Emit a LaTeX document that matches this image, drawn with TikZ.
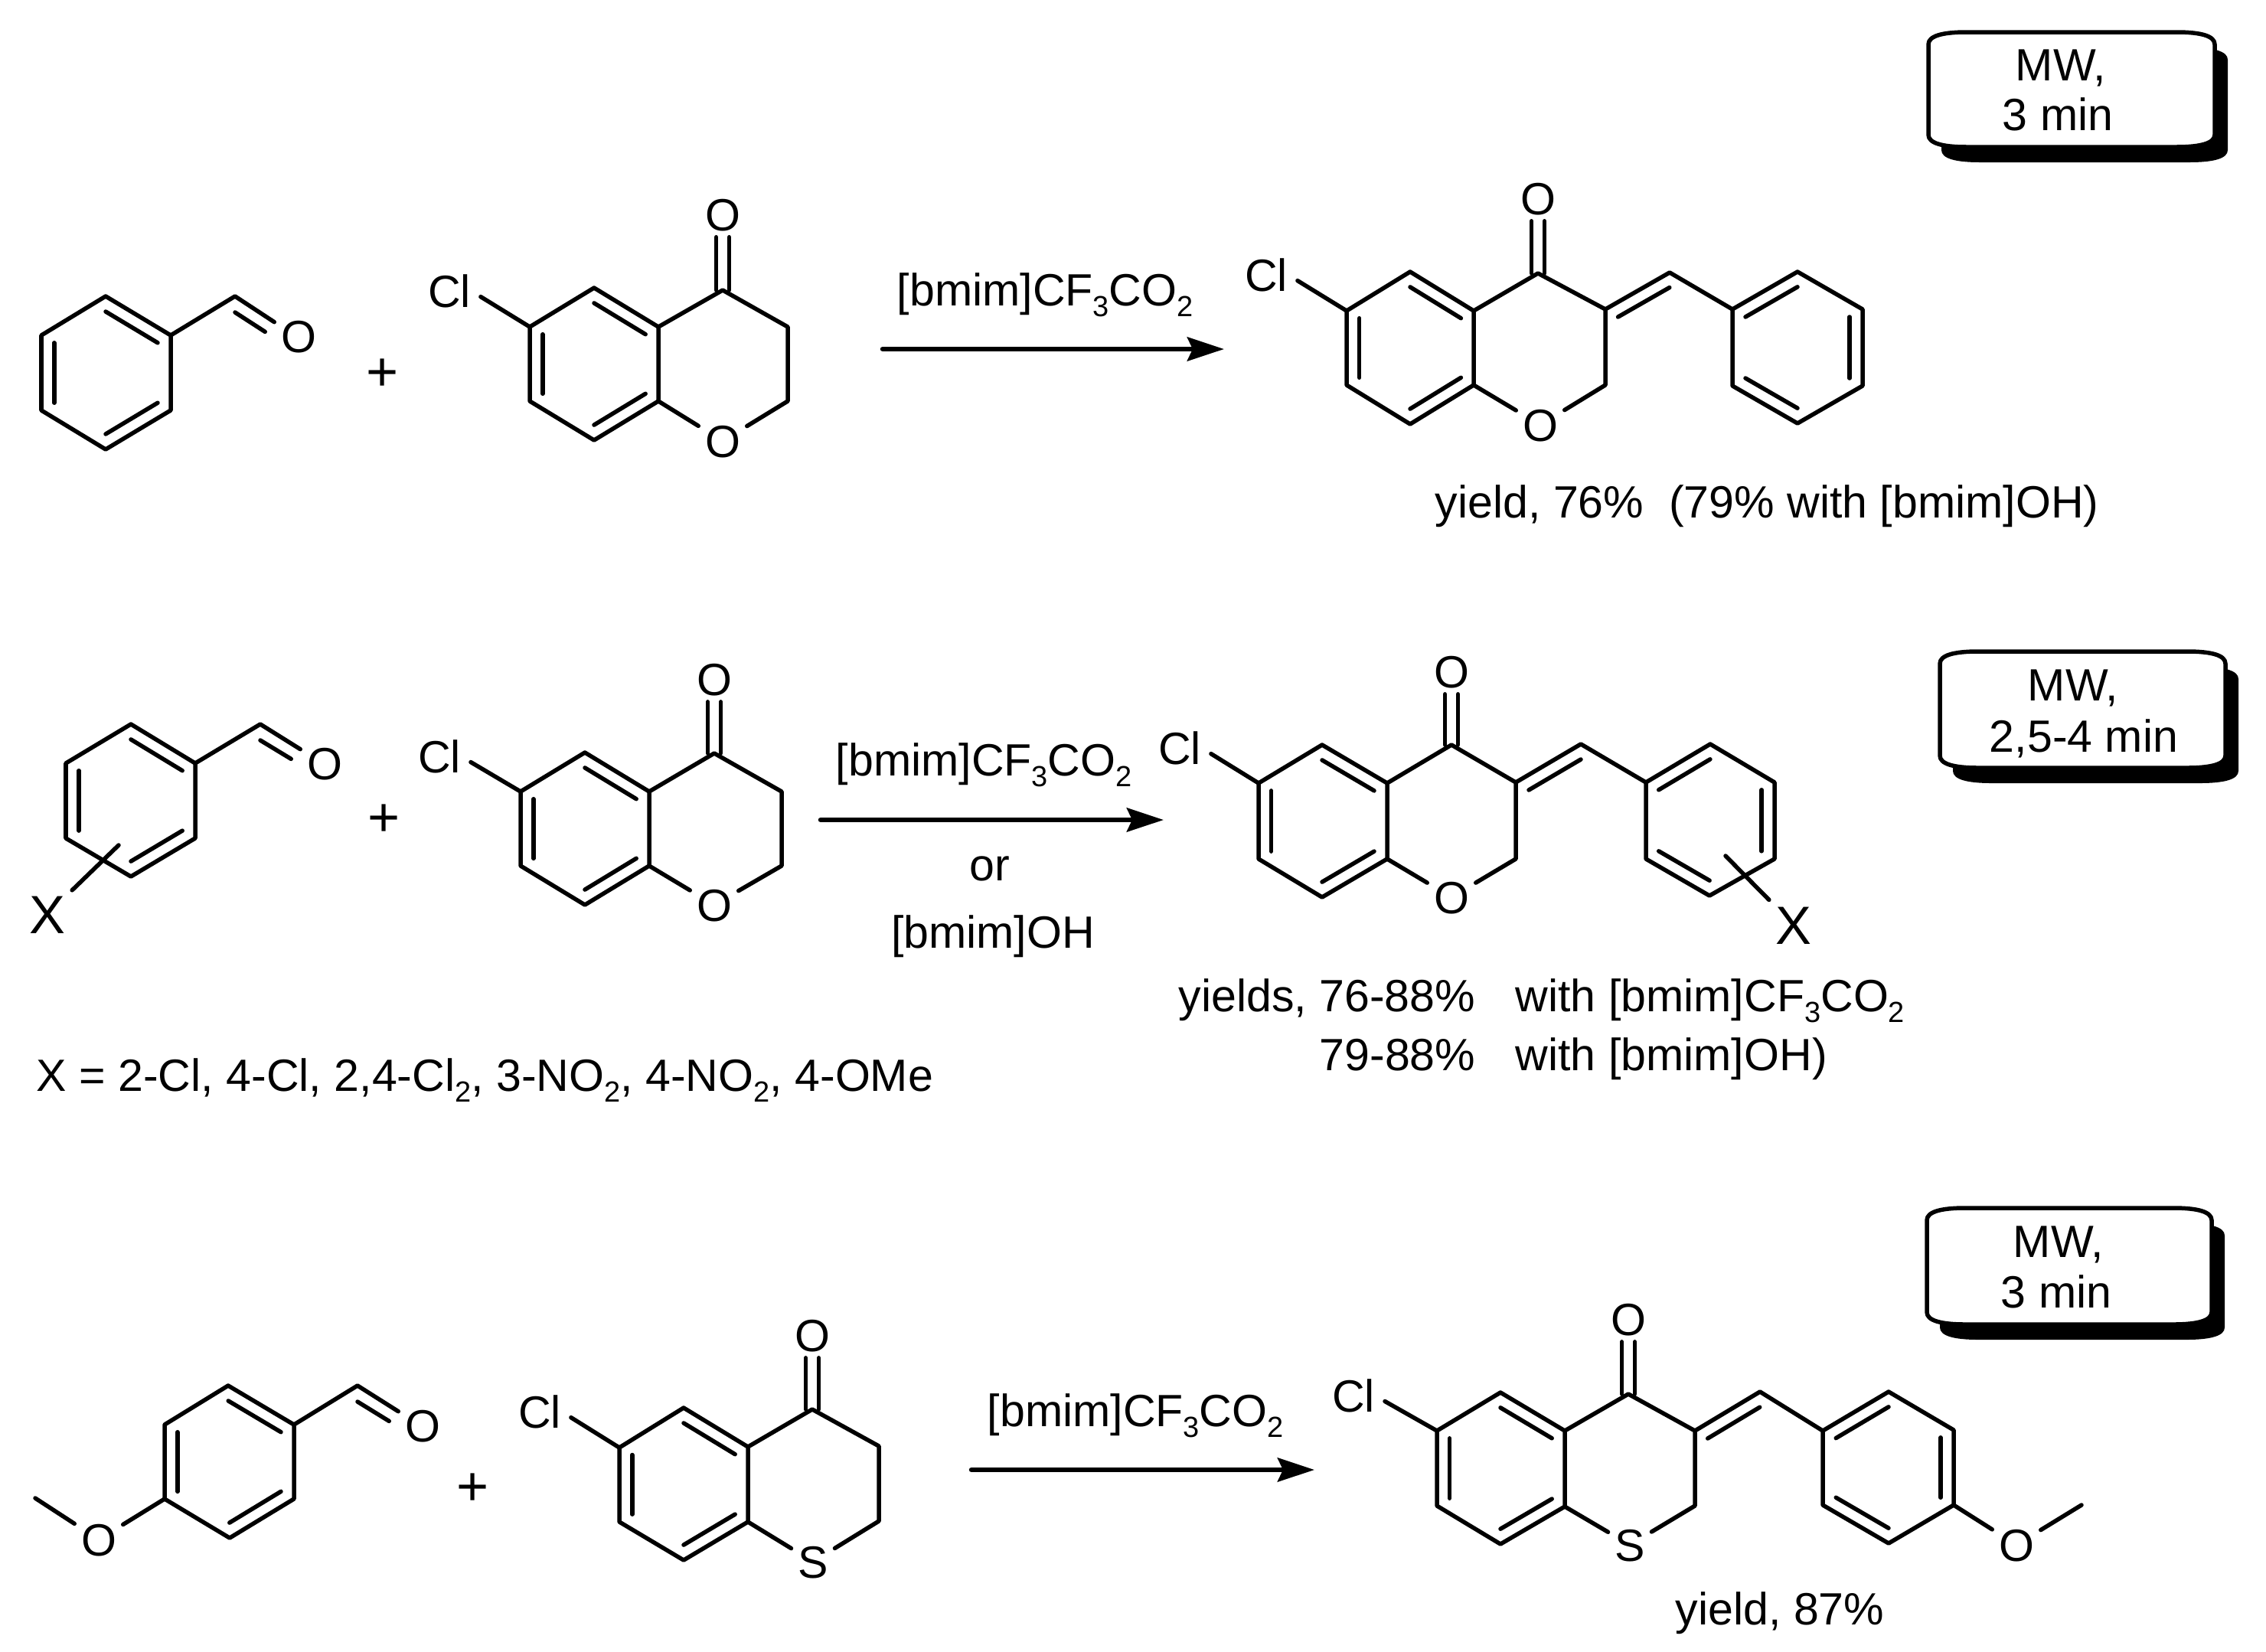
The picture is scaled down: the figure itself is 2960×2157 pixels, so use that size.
\documentclass[tikz,border=0pt]{standalone}
\usepackage{fontspec}
\setmainfont{Liberation Sans}
\usetikzlibrary{calc,arrows.meta}
\tikzset{
  atom/.style={inner sep=.06cm, text height=.42cm, text depth=0pt},
  bigatom/.style={atom, font=\fontsize{20}{24}\selectfont, text height=.5cm},
  lab/.style={inner sep=0pt, anchor=base west},
  cen/.style={inner sep=0pt, anchor=base},
  pluslab/.style={inner sep=0pt, font=\fontsize{20.5}{24}\selectfont},
  rxn/.style={line width=.065cm, -{Stealth[length=.48cm,width=.31cm,inset=.07cm]}}
}
\newcommand{\lowidx}[1]{\raisebox{-.25em}{\fontsize{10.8}{12}\selectfont #1}}
\newcommand{\inbond}[3]{\draw ($(#1#2)!.2!(#1c)$) to ($(#1#3)!.2!(#1c)$);}
\newcommand{\hexring}[1]{
  \coordinate (#1c) at ($(#11)!.5!(#14)$);
  \draw (#11) to (#12) to (#13) to (#14) to (#15) to (#16) to (#11);
}
\newcommand{\benzal}[1]{
  \hexring{#1}
  \inbond{#1}{1}{2}
  \inbond{#1}{3}{4}
  \inbond{#1}{5}{6}
  \draw (#12) to (#1h) to (#1o.150);
  \draw ([yshift=-.21cm]#1h) to ([xshift=-.12cm]#1o.170);
}
\newcommand{\pyranone}[1]{
  \hexring{#1}
  \inbond{#1}{1}{2}
  \inbond{#1}{3}{4}
  \inbond{#1}{5}{6}
  \draw (#12) to (#17) to (#1x1) to (#18) to (#1y) to (#13);
  \draw[shorten >=.05cm] (#16) to ([yshift=-.05cm]#1l.east);
  \draw ([xshift=-.085cm]#17) to ([xshift=-.085cm]#1o.south);
  \draw ([xshift=.085cm]#17) to ([xshift=.085cm]#1o.south);
}
\newcommand{\benzyl}[1]{
  \coordinate (#1xc) at ($(#1x1)!.5!(#1p6)+(0,50)$);
  \draw (#1x1) to (#1x2) to (#1p6);
  \inbond{#1x}{1}{2}
  \hexring{#1p}
  \inbond{#1p}{6}{1}
  \inbond{#1p}{2}{3}
  \inbond{#1p}{4}{5}
}
\newcommand{\mwbox}[4]{
  \fill[shift={(17,20)}]
    (#1,#2+16) .. controls (#1,#2+5) and (#1+18,#2) .. (#1+50,#2) -- (#3-50,#2)
    .. controls (#3-18,#2) and (#3,#2+5) .. (#3,#2+16) -- (#3,#4-16)
    .. controls (#3,#4-5) and (#3-18,#4) .. (#3-50,#4) -- (#1+50,#4)
    .. controls (#1+18,#4) and (#1,#4-5) .. (#1,#4-16) -- cycle;
  \filldraw[fill=white]
    (#1,#2+16) .. controls (#1,#2+5) and (#1+18,#2) .. (#1+50,#2) -- (#3-50,#2)
    .. controls (#3-18,#2) and (#3,#2+5) .. (#3,#2+16) -- (#3,#4-16)
    .. controls (#3,#4-5) and (#3-18,#4) .. (#3-50,#4) -- (#1+50,#4)
    .. controls (#1+18,#4) and (#1,#4-5) .. (#1,#4-16) -- cycle;
}
\begin{document}
\begin{tikzpicture}[x=.01cm, y=-.01cm, line width=.055cm, line cap=round, line join=round,
    every node/.style={font=\fontsize{16.8}{20}\selectfont}]
  \useasboundingbox (0,0) rectangle (2960,2157);

  \mwbox{2519}{42}{2893}{192}
  \mwbox{2534}{851}{2907}{1003}
  \mwbox{2517}{1578}{2889}{1730}
  \node[cen] (mw1a) at (2692,105) {MW,};
  \node[cen] (mw1b) at (2688,170) {3 min};
  \node[cen] (mw2a) at (2708,915) {MW,};
  \node[cen] (mw2b) at (2722,982) {2,5-4 min};
  \node[cen] (mw3a) at (2689,1642) {MW,};
  \node[cen] (mw3b) at (2686,1708) {3 min};

  \draw
    (138,387) coordinate (a1)
    (223,438) coordinate (a2)
    (223,536) coordinate (a3)
    (138,587) coordinate (a4)
    (54,536) coordinate (a5)
    (54,438) coordinate (a6)
    (307,387) coordinate (ah)
    (776,376) coordinate (b1)
    (860,427) coordinate (b2)
    (860,524) coordinate (b3)
    (776,575) coordinate (b4)
    (692,524) coordinate (b5)
    (692,427) coordinate (b6)
    (944,379) coordinate (b7)
    (1029,427) coordinate (bx1)
    (1029,524) coordinate (b8)
    (1842,355) coordinate (c1)
    (1925,406) coordinate (c2)
    (1925,503) coordinate (c3)
    (1842,554) coordinate (c4)
    (1759,503) coordinate (c5)
    (1759,406) coordinate (c6)
    (2009,357) coordinate (c7)
    (2097,404) coordinate (cx1)
    (2097,503) coordinate (c8)
    (2181,356) coordinate (cx2)
    (2348,355) coordinate (cp1)
    (2433,404) coordinate (cp2)
    (2433,504) coordinate (cp3)
    (2348,553) coordinate (cp4)
    (2263,504) coordinate (cp5)
    (2263,404) coordinate (cp6)
    (1153,456) coordinate (ar1a)
    (1599,456) coordinate (ar1b);
  \node[atom] (ao) at (390,439) {O};
  \node[atom] (bo) at (944,280) {O};
  \node[atom] (by) at (944,576) {O};
  \node[atom] (bl) at (587,380) {Cl};
  \node[atom] (co) at (2009,259) {O};
  \node[atom] (cy) at (2012,555) {O};
  \node[atom] (cl) at (1654,359) {Cl};
  \node[pluslab] (plus1) at (500,490) {+};
  \benzal{a}
  \pyranone{b}
  \pyranone{c}
  \benzyl{c}
  \draw[rxn] (ar1a) to (ar1b);
  \node[lab] (rg1) at (1169,399) {[bmim]CF\lowidx{3}CO\lowidx{2}};
  \node[lab] (yield1) at (1872,676) {yield, 76\%\ \ (79\% with [bmim]OH)};

  \draw
    (171,946) coordinate (d1)
    (255,997) coordinate (d2)
    (255,1095) coordinate (d3)
    (171,1145) coordinate (d4)
    (86,1095) coordinate (d5)
    (86,997) coordinate (d6)
    (340,946) coordinate (dh)
    (155,1104) coordinate (dt)
    (764,983) coordinate (e1)
    (848,1034) coordinate (e2)
    (848,1131) coordinate (e3)
    (764,1182) coordinate (e4)
    (680,1131) coordinate (e5)
    (680,1034) coordinate (e6)
    (933,984) coordinate (e7)
    (1021,1034) coordinate (ex1)
    (1021,1131) coordinate (e8)
    (1727,973) coordinate (f1)
    (1812,1023) coordinate (f2)
    (1812,1122) coordinate (f3)
    (1727,1172) coordinate (f4)
    (1644,1122) coordinate (f5)
    (1644,1023) coordinate (f6)
    (1896,973) coordinate (f7)
    (1980,1022) coordinate (fx1)
    (1980,1122) coordinate (f8)
    (2065,972) coordinate (fx2)
    (2234,972) coordinate (fp1)
    (2318,1022) coordinate (fp2)
    (2318,1122) coordinate (fp3)
    (2233,1170) coordinate (fp4)
    (2150,1122) coordinate (fp5)
    (2150,1022) coordinate (fp6)
    (2254,1118) coordinate (ft)
    (1072,1071) coordinate (ar2a)
    (1520,1071) coordinate (ar2b);
  \node[atom] (do) at (424,997) {O};
  \node[bigatom] (dz) at (62,1194) {X};
  \node[atom] (eo) at (933,887) {O};
  \node[atom] (ey) at (933,1182) {O};
  \node[atom] (el) at (574,988) {Cl};
  \node[atom] (fo) at (1896,877) {O};
  \node[atom] (fy) at (1896,1172) {O};
  \node[atom] (fl) at (1541,977) {Cl};
  \node[bigatom] (fz) at (2343,1208) {X};
  \node[pluslab] (plus2) at (502,1072) {+};
  \benzal{d}
  \draw (dt) to (dz);
  \pyranone{e}
  \pyranone{f}
  \benzyl{f}
  \draw (ft) to (fz);
  \draw[rxn] (ar2a) to (ar2b);
  \node[lab] (rg2) at (1089,1013) {[bmim]CF\lowidx{3}CO\lowidx{2}};
  \node[cen] (rg2or) at (1293,1150) {or};
  \node[cen] (rg2oh) at (1297,1238) {[bmim]OH};
  \node[lab, anchor=base east] (yield2a) at (1930,1321) {yields, 76-88\%};
  \node[lab, anchor=base east] (yield2b) at (1930,1398) {79-88\%};
  \node[lab] (with2a) at (1977,1321) {with [bmim]CF\lowidx{3}CO\lowidx{2}};
  \node[lab] (with2b) at (1977,1398) {with [bmim]OH)};
  \node[lab] (subst) at (45,1425) {X = 2-Cl, 4-Cl, 2,4-Cl\lowidx{2}, 3-NO\lowidx{2}, 4-NO\lowidx{2}, 4-OMe};

  \draw
    (298,1810) coordinate (g1)
    (384,1861) coordinate (g2)
    (384,1958) coordinate (g3)
    (300,2009) coordinate (g4)
    (215,1958) coordinate (g5)
    (215,1861) coordinate (g6)
    (467,1810) coordinate (gh)
    (46,1957) coordinate (gme)
    (893,1839) coordinate (h1)
    (977,1890) coordinate (h2)
    (977,1988) coordinate (h3)
    (893,2038) coordinate (h4)
    (809,1988) coordinate (h5)
    (809,1891) coordinate (h6)
    (1061,1841) coordinate (h7)
    (1148,1889) coordinate (hx1)
    (1148,1987) coordinate (h8)
    (1960,1819) coordinate (i1)
    (2044,1869) coordinate (i2)
    (2044,1968) coordinate (i3)
    (1960,2017) coordinate (i4)
    (1877,1967) coordinate (i5)
    (1877,1869) coordinate (i6)
    (2127,1821) coordinate (i7)
    (2214,1869) coordinate (ix1)
    (2214,1967) coordinate (i8)
    (2299,1818) coordinate (ix2)
    (2467,1818) coordinate (ip1)
    (2552,1868) coordinate (ip2)
    (2552,1966) coordinate (ip3)
    (2467,2016) coordinate (ip4)
    (2381,1966) coordinate (ip5)
    (2381,1869) coordinate (ip6)
    (2719,1966) coordinate (ime)
    (1269,1920) coordinate (ar3a)
    (1717,1920) coordinate (ar3b);
  \node[atom] (go) at (552,1862) {O};
  \node[atom] (gm) at (129,2011) {O};
  \node[atom] (ho) at (1061,1744) {O};
  \node[atom] (hy) at (1062,2040) {S};
  \node[atom] (hl) at (705,1844) {Cl};
  \node[atom] (io) at (2127,1723) {O};
  \node[atom] (iy) at (2129,2018) {S};
  \node[atom] (il) at (1768,1823) {Cl};
  \node[atom] (im) at (2634,2018) {O};
  \node[pluslab] (plus3) at (618,1946) {+};
  \benzal{g}
  \draw (gme) to (gm) to (g5);
  \pyranone{h}
  \pyranone{i}
  \benzyl{i}
  \draw (ip3) to (im) to (ime);
  \draw[rxn] (ar3a) to (ar3b);
  \node[lab] (rg3) at (1287,1863) {[bmim]CF\lowidx{3}CO\lowidx{2}};
  \node[lab] (yield3) at (2186,2122) {yield, 87\%};
\end{tikzpicture}
\end{document}
